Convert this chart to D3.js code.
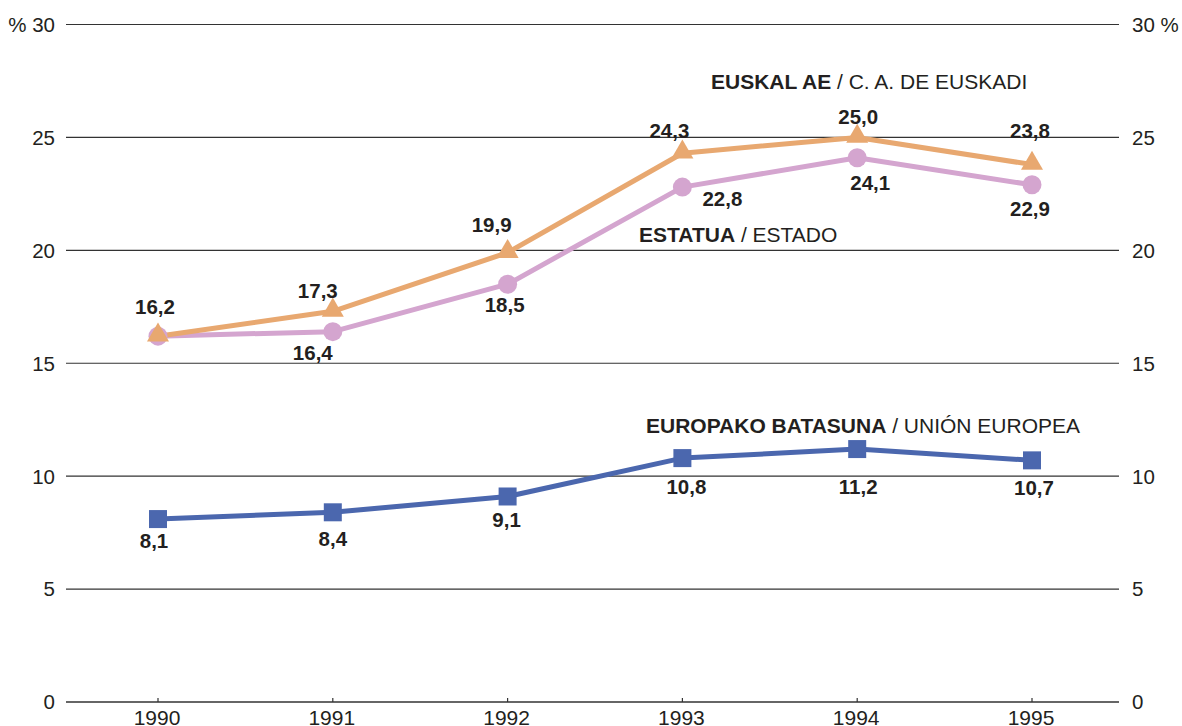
<!DOCTYPE html>
<html><head><meta charset="utf-8">
<script src="https://cdn.jsdelivr.net/npm/d3@7"></script>
<style>body{margin:0;background:#fff}svg{display:block}text{font-family:"Liberation Sans",Arial,sans-serif;fill:#231f20}</style>
</head><body><svg id="c" width="1182" height="726"></svg>
<script>
const years = [1990, 1991, 1992, 1993, 1994, 1995];
const euskadi = [16.2, 17.3, 19.9, 24.3, 25.0, 23.8];
const estado = [16.2, 16.4, 18.5, 22.8, 24.1, 22.9];
const europa = [8.1, 8.4, 9.1, 10.8, 11.2, 10.7];
const yTicks = [0, 5, 10, 15, 20, 25, 30];

const svg = d3.select("#c");
const x = d3.scalePoint().domain(years).range([158, 1032]);
const y = d3.scaleLinear().domain([0, 30]).range([702, 24.5]);
const fmt = v => v.toFixed(1).replace(".", ",");
const FS = "20.5px";

// gridlines
svg.append("g").selectAll("line").data(yTicks).join("line")
  .attr("x1", 66).attr("x2", 1119)
  .attr("y1", d => y(d)).attr("y2", d => y(d))
  .attr("stroke", "#333").attr("stroke-width", d => d === 0 ? 1.6 : 1.2);

// left/right labels
svg.append("g").selectAll("text").data(yTicks).join("text")
  .attr("x", 55).attr("y", d => y(d)).attr("dy", "0.36em")
  .attr("text-anchor", "end").style("font-size", FS)
  .text(d => d === 30 ? "% 30" : d);
svg.append("g").selectAll("text").data(yTicks).join("text")
  .attr("x", 1132).attr("y", d => y(d)).attr("dy", "0.36em")
  .attr("text-anchor", "start").style("font-size", FS)
  .text(d => d === 30 ? "30 %" : d);

// x ticks
svg.append("g").selectAll("line").data(years).join("line")
  .attr("x1", d => x(d)).attr("x2", d => x(d))
  .attr("y1", 702).attr("y2", 698).attr("stroke", "#333").attr("stroke-width", 1.2);
svg.append("g").selectAll("text").data(years).join("text")
  .attr("x", d => x(d) - 1).attr("y", 725).attr("text-anchor", "middle")
  .style("font-size", "21px").text(d => d);

const line = d3.line().x((d, i) => x(years[i])).y(d => y(d));

function series(vals, color) {
  svg.append("path").datum(vals).attr("d", line)
    .attr("fill", "none").attr("stroke", color).attr("stroke-width", 5)
    .attr("stroke-linejoin", "round");
}
series(estado, "#d4a5cf");
series(euskadi, "#e8a870");
series(europa, "#4b67ae");

// markers
svg.append("g").selectAll("circle").data(estado).join("circle")
  .attr("cx", (d, i) => x(years[i])).attr("cy", d => y(d)).attr("r", 9.5)
  .attr("fill", "#d4a5cf");
const tri = d3.symbol().type(d3.symbolTriangle).size(210);
svg.append("g").selectAll("path").data(euskadi).join("path")
  .attr("d", tri)
  .attr("transform", (d, i) => `translate(${x(years[i])},${y(d) - 1})`)
  .attr("fill", "#e8a870");
svg.append("g").selectAll("rect").data(europa).join("rect")
  .attr("x", (d, i) => x(years[i]) - 9).attr("y", d => y(d) - 9)
  .attr("width", 18).attr("height", 18).attr("fill", "#4b67ae");

// value labels (placement offsets from each point: label centre)
const offE = [[-3, -30], [-15, -21], [-16, -28], [-13, -23], [1, -21], [-2, -34]];
const offS = [null, [-20, 21], [-3, 20], [40, 12], [13, 25], [-2, 24]];
const offU = [[-4, 22], [0, 26], [-1, 23], [4, 29], [1, 38], [2, 27]];
function labels(vals, off) {
  svg.append("g").selectAll("text").data(vals.map((v, i) => [v, i]).filter(d => off[d[1]]))
    .join("text")
    .attr("x", d => x(years[d[1]]) + off[d[1]][0])
    .attr("y", d => y(d[0]) + off[d[1]][1])
    .attr("dy", "0.36em").attr("text-anchor", "middle")
    .style("font-size", FS).style("font-weight", "bold")
    .text(d => fmt(d[0]));
}
labels(euskadi, offE);
labels(estado, offS);
labels(europa, offU);

// series names
function name(xp, yp, bold, normal) {
  const t = svg.append("text").attr("x", xp).attr("y", yp).attr("dy", "0.36em").style("font-size", "21px");
  t.append("tspan").style("font-weight", "bold").text(bold);
  t.append("tspan").text(" / " + normal);
}
name(711, 81, "EUSKAL AE", "C. A. DE EUSKADI");
name(639, 234, "ESTATUA", "ESTADO");
name(646, 425, "EUROPAKO BATASUNA", "UNIÓN EUROPEA");
</script></body></html>
